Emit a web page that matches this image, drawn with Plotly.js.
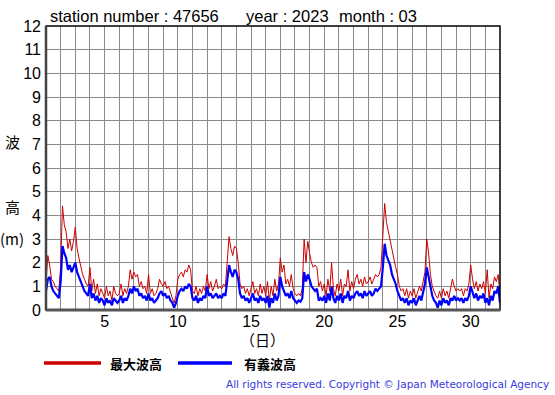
<!DOCTYPE html>
<html>
<head>
<meta charset="utf-8">
<script src="https://cdn.plot.ly/plotly-3.0.1.min.js"></script>
<style>html,body{margin:0;padding:0;background:#fff;}</style>
</head>
<body>
<div id="chart" style="width:555px;height:395px;"></div>
<script>
// 3-hourly samples, 8 per day, starting day 1 00h
const samplesPerDay = 8;
const startDay = 1;
const maxWave = [
 1.2, 2.3, 1.9, 1.3, 1.2, 1.0, 0.9, 0.8,
 1.8, 4.4, 3.6, 3.3, 2.6, 3.0, 2.5, 2.9,
 3.5, 2.6, 2.2, 1.8, 1.5, 1.3, 1.1, 1.0,
 1.8, 0.8, 1.3, 0.7, 1.1, 0.6, 0.9, 0.7,
 0.5, 1.0, 0.6, 0.8, 0.4, 1.0, 0.7, 0.6,
 0.7, 1.1, 0.6, 0.9, 0.7, 1.0, 1.7, 1.3,
 1.6, 1.4, 1.5, 1.0, 1.2, 0.9, 1.0, 0.7,
 1.5, 0.7, 0.9, 0.6, 0.7, 0.9, 1.3, 1.1,
 1.0, 1.2, 0.9, 1.0, 0.7, 0.5, 0.3, 0.6,
 1.3, 1.5, 1.6, 1.4, 1.7, 1.6, 1.9, 1.7,
 0.8, 0.7, 1.0, 0.6, 0.9, 0.7, 1.0, 0.8,
 1.5, 0.9, 1.2, 0.8, 1.0, 1.3, 0.9, 1.0,
 0.9, 1.1, 1.0, 2.0, 3.1, 2.6, 2.3, 2.7,
 2.6, 2.0, 1.1, 0.9, 1.0, 0.7, 0.9, 0.6,
 0.9, 1.2, 0.7, 0.9, 0.6, 1.1, 0.7, 1.0,
 0.6, 1.2, 0.4, 1.0, 0.6, 1.3, 0.8, 1.1,
 2.2, 1.6, 1.9, 1.1, 1.3, 1.0, 1.5, 0.9,
 0.7, 0.6, 0.7, 0.6, 0.9, 3.0, 2.0, 2.9,
 2.4, 2.0, 1.8, 1.9, 1.8, 1.0, 1.2, 0.8,
 1.1, 0.6, 1.3, 0.8, 2.0, 0.9, 0.6, 1.1,
 0.8, 1.3, 0.6, 1.1, 1.0, 1.7, 0.8, 1.2,
 0.9, 1.3, 1.5, 1.1, 1.3, 1.0, 1.4, 1.1,
 1.2, 1.4, 1.1, 1.3, 1.5, 1.4, 1.5, 1.8,
 3.0, 4.5, 3.7, 3.3, 2.9, 2.5, 2.1, 1.8,
 1.5, 1.0, 0.8, 0.9, 0.6, 0.9, 0.5, 0.8,
 0.6, 0.9, 0.5, 0.8, 1.0, 0.8, 1.3, 1.6,
 3.0, 2.4, 1.5, 1.0, 0.8, 0.6, 0.5, 0.8,
 0.5, 0.9, 0.6, 0.8, 0.5, 0.9, 1.3, 1.0,
 0.8, 0.9, 0.8, 0.9, 0.6, 0.9, 0.8, 1.1,
 1.9, 1.3, 0.9, 1.2, 0.8, 1.1, 0.9, 1.2,
 0.7, 1.7, 0.5, 1.1, 0.9, 1.4, 1.2, 1.5,
 0.6
];
const sigWave = [
 0.8, 1.3, 1.4, 1.0, 0.8, 0.7, 0.6, 0.5,
 1.2, 2.7, 2.4, 2.2, 1.7, 1.9, 1.6, 1.8,
 2.0, 1.6, 1.4, 1.2, 1.0, 0.8, 0.7, 0.6,
 1.1, 0.5, 0.7, 0.4, 0.6, 0.3, 0.5, 0.4,
 0.2, 0.5, 0.3, 0.4, 0.2, 0.5, 0.4, 0.3,
 0.4, 0.6, 0.3, 0.5, 0.4, 0.6, 0.9, 0.7,
 1.0, 0.8, 0.9, 0.6, 0.7, 0.5, 0.6, 0.4,
 0.7, 0.4, 0.5, 0.3, 0.4, 0.5, 0.7, 0.8,
 0.6, 0.7, 0.5, 0.6, 0.4, 0.3, 0.1, 0.3,
 0.6, 0.8, 0.9, 0.8, 1.0, 0.9, 1.1, 1.0,
 0.5, 0.4, 0.6, 0.3, 0.5, 0.4, 0.6, 0.5,
 1.0, 0.6, 0.7, 0.5, 0.6, 0.7, 0.5, 0.6,
 0.5, 0.7, 0.6, 1.2, 1.9, 1.6, 1.4, 1.7,
 1.6, 1.3, 0.7, 0.5, 0.6, 0.4, 0.5, 0.3,
 0.5, 0.7, 0.4, 0.5, 0.3, 0.6, 0.4, 0.5,
 0.3, 0.6, 0.1, 0.5, 0.3, 0.7, 0.4, 0.6,
 1.4, 1.0, 0.8, 0.6, 0.7, 0.5, 0.8, 0.5,
 0.4, 0.3, 0.4, 0.35, 0.5, 1.6, 1.2, 1.5,
 1.3, 1.0, 0.9, 0.8, 0.9, 0.4, 0.5, 0.4,
 0.6, 0.3, 0.7, 0.4, 1.0, 0.5, 0.3, 0.6,
 0.4, 0.7, 0.3, 0.6, 0.5, 0.8, 0.4, 0.6,
 0.5, 0.7, 0.8, 0.6, 0.7, 0.5, 0.8, 0.6,
 0.7, 0.8, 0.6, 0.7, 0.9, 0.8, 0.9, 1.0,
 1.8, 2.8, 2.3, 2.1, 1.9, 1.5, 1.3, 1.1,
 0.8, 0.6, 0.4, 0.5, 0.3, 0.5, 0.2, 0.4,
 0.3, 0.5, 0.2, 0.4, 0.6, 0.4, 0.7, 1.1,
 1.8, 1.4, 0.9, 0.6, 0.4, 0.3, 0.1, 0.4,
 0.2, 0.5, 0.3, 0.4, 0.2, 0.5, 0.4, 0.6,
 0.4, 0.5, 0.4, 0.5, 0.3, 0.5, 0.4, 0.6,
 1.0, 0.7, 0.5, 0.7, 0.4, 0.6, 0.5, 0.7,
 0.3, 0.5, 0.2, 0.6, 0.4, 0.8, 0.7, 1.0,
 0.3
];
const dayTicks = [];
const dayTickText = [];
for (let d = 1; d <= 32; d++) { dayTicks.push(d); dayTickText.push(d % 5 === 0 ? String(d) : ''); }
const heightTicks = [0,1,2,3,4,5,6,7,8,9,10,11,12];
const titleParts = ['station number : 47656', 'year : 2023', 'month : 03'];
const legendNames = ['最大波高', '有義波高'];

const times = maxWave.map((_, i) => startDay + i / samplesPerDay);

const traces = [
  {x: times, y: maxWave, type: 'scatter', mode: 'lines', line: {color: '#cc0000', width: 1}, showlegend: false, hoverinfo: 'skip'},
  {x: times, y: sigWave, type: 'scatter', mode: 'lines', line: {color: '#0000ff', width: 2.2}, showlegend: false, hoverinfo: 'skip'}
];

const font = 'Liberation Sans, Arial, sans-serif';
const cjk = 'Noto Sans CJK JP, sans-serif';
const W = 454, H = 284; // plot size in px
function px(x) { return (x - 46) / W; }
function py(y) { return (310 - y) / H; }

function ann(text, x, y, anchor, f) {
  return {text: text, xref: 'paper', yref: 'paper', x: px(x), y: py(y), xanchor: anchor, yanchor: 'middle', showarrow: false, font: f};
}
const titleFont = {family: font, size: 16.5, color: '#000'};

const layout = {
  width: 555, height: 395,
  margin: {l: 46, r: 55, t: 26, b: 85, pad: 0},
  paper_bgcolor: '#fff', plot_bgcolor: '#fff',
  showlegend: false,
  xaxis: {
    range: [1, 32], tickmode: 'array', tickvals: dayTicks, ticktext: dayTickText,
    showgrid: true, gridcolor: '#8a8a8a', gridwidth: 1, zeroline: false,
    showline: false, ticks: '', tickfont: {family: font, size: 16, color: '#000'},
    fixedrange: true
  },
  yaxis: {
    range: [0, 12], tickmode: 'array', tickvals: heightTicks,
    showgrid: true, gridcolor: '#8a8a8a', gridwidth: 1, zeroline: false,
    showline: false, ticks: '', ticklabelstandoff: 4, tickfont: {family: font, size: 16, color: '#000'},
    fixedrange: true
  },
  shapes: [
    {type: 'rect', xref: 'paper', yref: 'paper', x0: 0, x1: 1, y0: 0, y1: 1, line: {color: '#000', width: 1.5}},
    {type: 'line', xref: 'paper', yref: 'paper', x0: 0, x1: 0, y0: 0, y1: 1, line: {color: '#444', width: 2.5}},
    {type: 'line', xref: 'paper', yref: 'paper', x0: 0, x1: 1, y0: 0, y1: 0, line: {color: '#555', width: 3}},
    {type: 'line', xref: 'paper', yref: 'paper', x0: px(44), x1: px(101), y0: py(363), y1: py(363), line: {color: '#cc0000', width: 3.5}},
    {type: 'line', xref: 'paper', yref: 'paper', x0: px(178), x1: px(232), y0: py(363), y1: py(363), line: {color: '#0000ff', width: 3.5}}
  ],
  annotations: [
    ann(titleParts[0], 48, 16, 'left', titleFont),
    ann(titleParts[1], 244, 16, 'left', titleFont),
    ann(titleParts[2], 337, 16, 'left', titleFont),
    ann('波', 12, 141, 'center', {family: cjk, size: 15, color: '#000'}),
    ann('高', 12, 207, 'center', {family: cjk, size: 15, color: '#000'}),
    ann('(m)', 12, 238, 'center', {family: cjk, size: 15, color: '#000'}),
    ann('（日）', 262, 339, 'center', {family: cjk, size: 15, color: '#000'}),
    ann('<b>' + legendNames[0] + '</b>', 108, 363, 'left', {family: cjk, size: 13, color: '#000'}),
    ann('<b>' + legendNames[1] + '</b>', 242, 363, 'left', {family: cjk, size: 13, color: '#000'}),
    ann('All rights reserved. Copyright © Japan Meteorological Agency', 551, 384, 'right', {family: 'DejaVu Sans, sans-serif', size: 10.5, color: '#3a3ae0'})
  ]
};

Plotly.newPlot('chart', traces, layout, {staticPlot: true, displayModeBar: false});
</script>
</body>
</html>
